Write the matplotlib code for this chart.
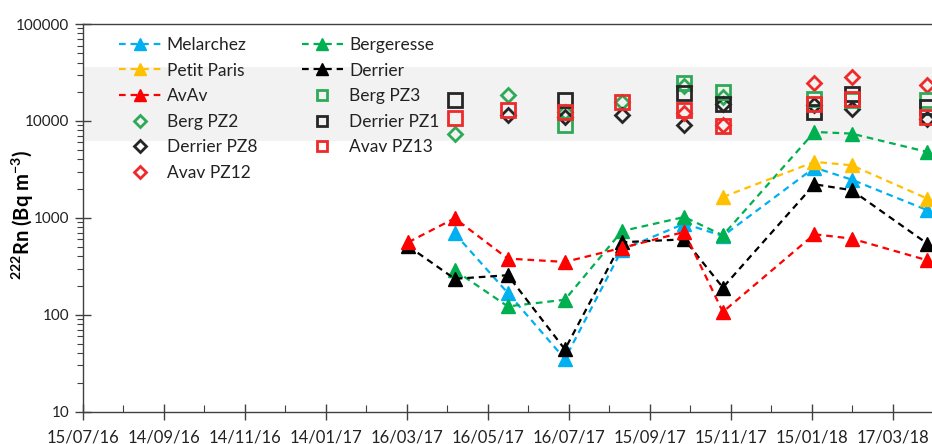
import numpy as np
import matplotlib
matplotlib.use("Agg")
import matplotlib.pyplot as plt
from matplotlib.ticker import LogLocator, NullFormatter
import datetime as dt

plt.rcParams['font.family'] = ['Lato', 'DejaVu Sans']
plt.rcParams['mathtext.fontset'] = 'custom'
plt.rcParams['mathtext.rm'] = 'Lato'
plt.rcParams['mathtext.bf'] = 'Lato:bold'

nan = np.nan
# ---- data ----
tri_dates = ['2017-03-17', '2017-04-21', '2017-05-31', '2017-07-13', '2017-08-25',
             '2017-10-11', '2017-11-09', '2018-01-17', '2018-02-14', '2018-04-12']
melarchez = [nan, 690, 168, 35, 470, 870, 650, 3300, 2480, 1200]
bergeresse = [nan, 288, 122, 143, 730, 1020, 660, 7700, 7400, 4790]
petit_paris = [nan, nan, nan, nan, nan, nan, 1640, 3780, 3490, 1580]
derrier = [510, 235, 256, 44, 560, 600, 191, 2220, 1930, 542]
avav = [560, 990, 380, 351, 490, 716, 107, 677, 611, 365]

pz_dates = ['2017-04-21', '2017-05-31', '2017-07-13', '2017-08-25', '2017-10-11',
            '2017-11-09', '2018-01-17', '2018-02-14', '2018-04-12']
berg_pz2 = [7290, 18400, 12500, 15500, 23000, 17500, nan, nan, nan]
derrier_pz8 = [nan, 11450, 11000, 11500, 9040, 14800, 14500, 13400, 10500]
avav_pz12 = [nan, nan, nan, nan, 12000, 9000, 24660, 28450, 23350]
berg_pz3 = [nan, nan, 9040, nan, 24660, 19900, 17000, 16360, 16630]
derrier_pz1 = [16360, nan, 16630, nan, 19450, 15100, 12380, 19180, 13950]
avav_pz13 = [10835, 12900, 12380, 15500, 12900, 8820, 15100, 17000, 11000]

band_low, band_high = 6200, 36000
y_ticks = [10, 100, 1000, 10000, 100000]
y_tick_labels = ['10', '100', '1000', '10000', '100000']
x_tick_labels = ['15/07/16', '14/09/16', '14/11/16', '14/01/17', '16/03/17', '16/05/17',
                 '16/07/17', '15/09/17', '15/11/17', '15/01/18', '17/03/18']

# ---- colours ----
c_blue = '#00B0F0'
c_green = '#00B050'
c_yellow = '#FFC000'
c_black = '#000000'
c_red = '#FF0000'
c_pgreen = '#2EAA57'
c_pblack = '#262626'
c_pred = '#EE2A2A'

fig = plt.figure(figsize=(9.32, 4.44), dpi=100)
ax = fig.add_axes([83 / 932, 32.3 / 444, 1 - 83 / 932 + 0.002, (411.7 - 24) / 444])

td = [dt.datetime.strptime(d, '%Y-%m-%d') for d in tri_dates]
pd_ = [dt.datetime.strptime(d, '%Y-%m-%d') for d in pz_dates]

start = dt.datetime(2016, 7, 15)
end = start + dt.timedelta(days=(932 - 83) / (808 / 610))

ax.axhspan(band_low, band_high, color='#F2F2F2', zorder=0, lw=0)

dash = (0, (3, 2.2))
series = [('Melarchez', melarchez, c_blue), ('Bergeresse', bergeresse, c_green),
          ('Petit Paris', petit_paris, c_yellow), ('Derrier', derrier, c_black),
          ('AvAv', avav, c_red)]
handles = {}
for name, vals, col in series:
    v = np.array(vals, dtype=float)
    m = ~np.isnan(v)
    x = [d for d, k in zip(td, m) if k]
    h, = ax.plot(x, v[m], linestyle=dash, lw=1.6, color=col, marker='^', ms=10.5,
                 mec=col, mfc=col, label=name, zorder=3)
    handles[name] = h

pz = [('Berg PZ2', berg_pz2, c_pgreen, 'D'), ('Derrier PZ8', derrier_pz8, c_pblack, 'D'),
      ('Avav PZ12', avav_pz12, c_pred, 'D'), ('Berg PZ3', berg_pz3, c_pgreen, 's'),
      ('Derrier PZ1', derrier_pz1, c_pblack, 's'), ('Avav PZ13', avav_pz13, c_pred, 's')]
for name, vals, col, mk in pz:
    v = np.array(vals, dtype=float)
    m = ~np.isnan(v)
    x = [d for d, k in zip(pd_, m) if k]
    h, = ax.plot(x, v[m], linestyle='none', marker=mk, ms=(7.5 if mk == 'D' else 9.5),
                 mec=col, mfc='none', mew=2.0, label=name, zorder=4)
    handles[name] = h

ax.set_yscale('log')
ax.set_ylim(10, 100000)
ax.set_xlim(start, end)
ax.set_yticks(y_ticks, y_tick_labels)
ax.yaxis.set_minor_locator(LogLocator(base=10, subs=np.arange(2, 10)))
ax.yaxis.set_minor_formatter(NullFormatter())

xt = [start + dt.timedelta(days=61 * i) for i in range(len(x_tick_labels))]
ax.set_xticks(xt, x_tick_labels)
xm = [start + dt.timedelta(days=30.5 + 61 * i) for i in range(len(x_tick_labels))]
ax.set_xticks(xm, minor=True)

axcol = '#404040'
for s in ['left', 'bottom', 'top']:
    ax.spines[s].set_color(axcol)
    ax.spines[s].set_linewidth(1.0)
ax.spines['right'].set_visible(False)
ax.tick_params(axis='y', which='major', direction='inout', length=12, width=1, color=axcol,
               labelsize=11, pad=4, labelcolor='#222222')
ax.tick_params(axis='y', which='minor', direction='out', length=4, width=0.8, color=axcol)
ax.tick_params(axis='x', which='major', direction='inout', length=12, width=1, color=axcol,
               labelsize=12, pad=7, labelcolor='#222222')
ax.tick_params(axis='x', which='minor', direction='in', length=5, width=0.8, color=axcol)

fig.text(23 / 932, 1 - 215 / 444, r'$^{\mathbf{222}}$Rn (Bq m$^{\mathbf{-3}}$)',
         fontsize=14.5, fontweight='bold', rotation=90, ha='center', va='center')

order = ['Melarchez', 'Petit Paris', 'AvAv', 'Berg PZ2', 'Derrier PZ8', 'Avav PZ12',
         'Bergeresse', 'Derrier', 'Berg PZ3', 'Derrier PZ1', 'Avav PZ13']
leg = fig.legend([handles[k] for k in order], order, ncol=2, loc='upper left',
                 bbox_to_anchor=(119 / 932, 1 - 37 / 444), frameon=False,
                 fontsize=12.5, handlelength=2.4, handletextpad=0.35,
                 labelspacing=0.55, columnspacing=2.55, borderpad=0, borderaxespad=0,
                 numpoints=1, markerscale=0.8)
for t in leg.get_texts():
    t.set_color('#222222')

fig.savefig('out.png', dpi=100)
